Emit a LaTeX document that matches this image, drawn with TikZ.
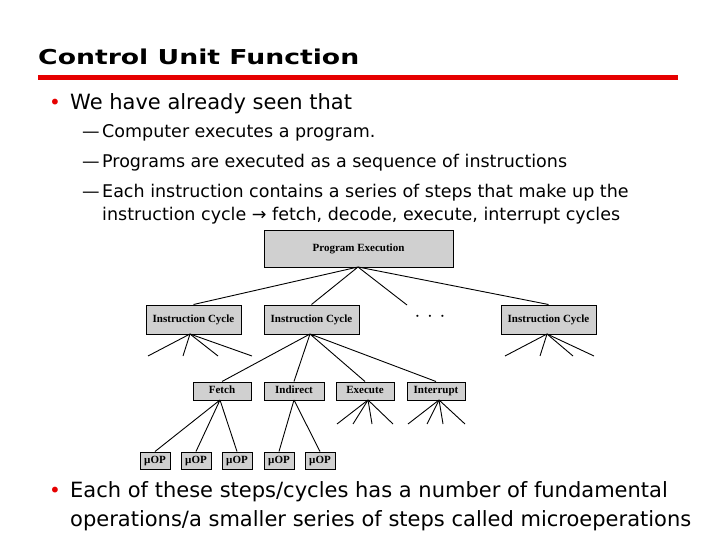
\documentclass[tikz,border=0pt]{standalone}
\usepackage{fontspec}
\setmainfont{DejaVu Sans}
\newfontfamily\boxfont{Liberation Serif}
\newfontfamily\titlefont{DejaVu Sans}[FakeStretch=1.3]
\definecolor{slidered}{RGB}{230,0,0}
\definecolor{boxgray}{RGB}{208,208,208}
\begin{document}
\begin{tikzpicture}[x=1pt,y=-1pt,
  bx/.style={draw=black,line width=1pt,fill=boxgray,inner sep=0pt,text height=7.5pt,text depth=2pt,font=\boxfont\bfseries\fontsize{11}{12}\selectfont},
  ln/.style={line width=0.9pt},
  txt/.style={anchor=base west,inner sep=0pt}]
\useasboundingbox (0,0) rectangle (720,540);
\node[txt,font=\titlefont\bfseries\fontsize{20.5}{22}\selectfont] (title) at (38,65) {Control Unit Function};
\draw[slidered,line width=5pt] (38,78) coordinate (r1) -- (678,78) coordinate (r2);
\node[txt,text=slidered,font=\fontsize{20}{22}\selectfont] (b1) at (49,110) {•};
\node[txt,font=\fontsize{21}{24}\selectfont] (t1) at (70,110) {We have already seen that};
\foreach \y/\s [count=\i] in {138/Computer executes a program.,168/Programs are executed as a sequence of instructions,197/Each instruction contains a series of steps that make up the}{
  \node[txt,font=\fontsize{17.5}{19}\selectfont] (d\i) at (82,\y) {—};
  \node[txt,font=\fontsize{17.5}{19}\selectfont] (s\i) at (102,\y) {\s};
}
\node[txt,font=\fontsize{17.5}{19}\selectfont] (s4) at (102,221) {instruction cycle → fetch, decode, execute, interrupt cycles};
\node[txt,text=slidered,font=\fontsize{20}{22}\selectfont] (b2) at (49,497) {•};
\node[txt,font=\fontsize{21}{24}\selectfont] (t2) at (70,497) {Each of these steps/cycles has a number of fundamental};
\node[txt,font=\fontsize{21}{24}\selectfont] (t3) at (70,526) {operations/a smaller series of steps called microeperations};
% boxes
\node[bx,minimum width=189pt,minimum height=36pt] (pe) at (358.5,249) {Program Execution};
\node[bx,minimum width=95pt,minimum height=29pt] (ic1) at (193.5,319.5) {Instruction Cycle};
\node[bx,minimum width=95pt,minimum height=29pt] (ic2) at (311.5,319.5) {Instruction Cycle};
\node[bx,minimum width=95pt,minimum height=29pt] (ic3) at (548.5,319.5) {Instruction Cycle};
\node[font=\bfseries\fontsize{20}{20}\selectfont] (dots) at (430,317) {$\cdot$\,\,$\cdot$\,\,$\cdot$};
\node[bx,minimum width=58pt,minimum height=18pt] (fe) at (222,391) {Fetch};
\node[bx,minimum width=60pt,minimum height=18pt] (in) at (294,391) {Indirect};
\node[bx,minimum width=58pt,minimum height=18pt] (ex) at (365,391) {Execute};
\node[bx,minimum width=58pt,minimum height=18pt] (it) at (436,391) {Interrupt};
\foreach \x/\n in {155/u1,196/u2,237/u3,279/u4,320/u5}
  \node[bx,minimum width=30pt,minimum height=17pt] (\n) at (\x,460.5) {µOP};
% connectors
\coordinate (pb) at (358,267);
\draw[ln] (pb) -- (ic1.north) (pb) -- (ic2.north) (pb) -- (ic3.north);
\coordinate (dt) at (407,305);
\draw[ln] (pb) -- (dt);
\coordinate (i1b) at (190,334);
\foreach \x in {148,183,218,252} \draw[ln] (i1b) -- (\x,356);
\coordinate (i3b) at (547,334);
\foreach \x in {505,540,573,594} \draw[ln] (i3b) -- (\x,356);
\coordinate (i2b) at (310,334);
\draw[ln] (i2b) -- (fe.north) (i2b) -- (in.north) (i2b) -- (ex.north) (i2b) -- (it.north);
\coordinate (exb) at (368,400);
\foreach \x in {337,353,372,393} \draw[ln] (exb) -- (\x,424);
\coordinate (itb) at (439,400);
\foreach \x in {408,427,443,465} \draw[ln] (itb) -- (\x,424);
\coordinate (feb) at (220,400);
\draw[ln] (feb) -- (u1.north) (feb) -- (u2.north) (feb) -- (u3.north);
\coordinate (inb) at (294,400);
\draw[ln] (inb) -- (u4.north) (inb) -- (u5.north);
\end{tikzpicture}
\end{document}
